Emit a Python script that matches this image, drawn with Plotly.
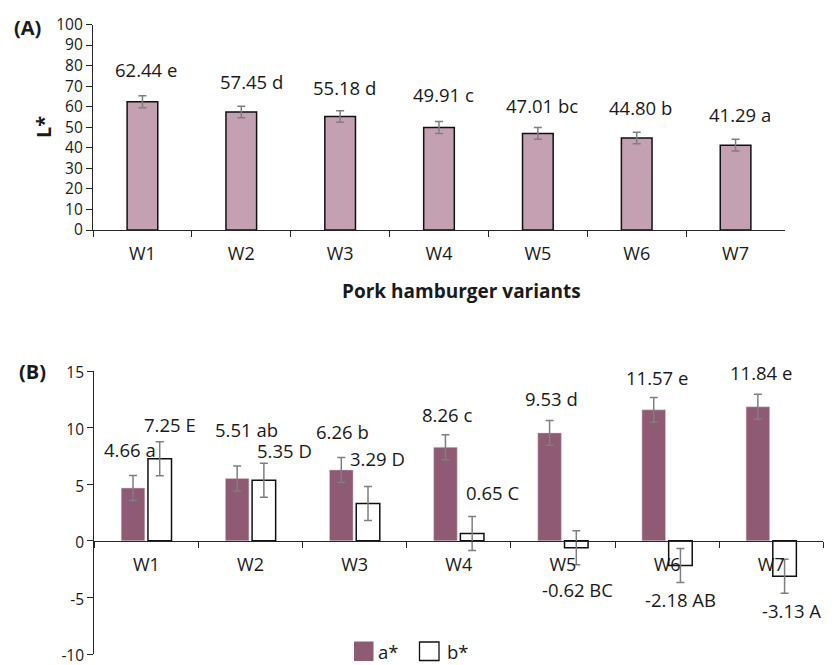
import plotly.graph_objects as go

# ---- data -------------------------------------------------------------
variants = ["W1", "W2", "W3", "W4", "W5", "W6", "W7"]

L_star = [62.44, 57.45, 55.18, 49.91, 47.01, 44.80, 41.29]
L_err = [2.9, 2.8, 2.8, 2.9, 2.9, 2.8, 2.9]
L_groups = ["e", "d", "d", "c", "bc", "b", "a"]

a_star = [4.66, 5.51, 6.26, 8.26, 9.53, 11.57, 11.84]
a_err = [1.1, 1.1, 1.1, 1.1, 1.1, 1.1, 1.1]
a_groups = ["a", "ab", "b", "c", "d", "e", "e"]

b_star = [7.25, 5.35, 3.29, 0.65, -0.62, -2.18, -3.13]
b_err = [1.5, 1.5, 1.5, 1.5, 1.5, 1.5, 1.5]
b_groups = ["E", "D", "D", "C", "BC", "AB", "A"]

L_ticks = list(range(0, 101, 10))
ab_ticks = [-10, -5, 0, 5, 10, 15]

# ---- styling / placement ---------------------------------------------
W, H = 835, 665
FONT = "Open Sans"
TXT = "#1a1a1a"
AX = "#262626"
ERR = "#7f7f7f"
TOP_FILL = "#c4a0b3"
A_FILL = "#8e5a74"

# label offsets (px) relative to each bar's top end
L_dx = [4, 10, 4, 4, 4, 4, 4]
L_dy = [32, 30, 29, 33, 28, 30, 31]
a_dx = [-16, -4, -12, -12, -11, -10, -10]
a_dy = [39, 49, 38, 33, 34, 32, 34]
b_dx = [24, 34, 23, 34, 15, 13, 20]
b_dy = [34, 30, 45, 41, -42, -34, -34]


def px_x(v):
    return v / W


def px_y(v):
    return 1 - v / H


top_x = [px_x(93), px_x(785)]
top_y = [px_y(230), px_y(24.5)]
bot_x = [px_x(94.3), px_x(823.3)]
bot_y = [px_y(654), px_y(371)]
ab_range = [-10, 15]
zero_pos = bot_y[0] + (bot_y[1] - bot_y[0]) * (0 - ab_range[0]) / (ab_range[1] - ab_range[0])

fig = go.Figure()

fig.add_trace(go.Bar(
    x=variants, y=L_star, width=0.31, xaxis="x", yaxis="y",
    marker=dict(color=TOP_FILL, line=dict(color="#111111", width=1.5)),
    error_y=dict(type="data", array=L_err, color=ERR, thickness=1.5, width=4),
    showlegend=False, name="L*",
))

fig.add_trace(go.Bar(
    x=variants, y=a_star, xaxis="x2", yaxis="y2",
    marker=dict(color=A_FILL, line=dict(color="#e8c8d8", width=0.5)),
    error_y=dict(type="data", array=a_err, color=ERR, thickness=1.5, width=4),
    showlegend=False, name="a*",
))
fig.add_trace(go.Bar(
    x=variants, y=b_star, xaxis="x2", yaxis="y2",
    marker=dict(color="white", line=dict(color="#111111", width=1.5)),
    error_y=dict(type="data", array=b_err, color=ERR, thickness=1.5, width=4),
    showlegend=False, name="b*",
))

ann = []
lab_font = dict(family=FONT, size=18.5, color=TXT)
for i, v in enumerate(variants):
    ann.append(dict(x=v, y=L_star[i], xref="x", yref="y",
                    text=f"{L_star[i]:.2f} {L_groups[i]}", showarrow=False,
                    xshift=L_dx[i], yshift=L_dy[i], font=lab_font))
    ann.append(dict(x=v, y=a_star[i], xref="x2", yref="y2",
                    text=f"{a_star[i]:.2f} {a_groups[i]}", showarrow=False,
                    xshift=a_dx[i], yshift=a_dy[i], font=lab_font))
    ann.append(dict(x=v, y=b_star[i], xref="x2", yref="y2",
                    text=f"{b_star[i]:.2f} {b_groups[i]}", showarrow=False,
                    xshift=b_dx[i], yshift=b_dy[i], font=lab_font))

bold = dict(family=FONT, size=20, color=TXT)
ann += [
    dict(x=px_x(12), y=px_y(27), xref="paper", yref="paper", xanchor="left",
         yanchor="middle", text="<b>(A)</b>", showarrow=False, font=bold),
    dict(x=px_x(17), y=px_y(372), xref="paper", yref="paper", xanchor="left",
         yanchor="middle", text="<b>(B)</b>", showarrow=False, font=bold),
    dict(x=px_x(43), y=px_y(127), xref="paper", yref="paper", xanchor="center",
         yanchor="middle", text="<b>L*</b>", textangle=-90, showarrow=False, font=bold),
    dict(x=px_x(462), y=px_y(291), xref="paper", yref="paper", xanchor="center",
         yanchor="middle", text="<b>Pork hamburger variants</b>", showarrow=False,
         font=dict(family=FONT, size=19, color=TXT)),
    dict(x=px_x(376), y=px_y(651), xref="paper", yref="paper", xanchor="left",
         yanchor="middle", text="a*", showarrow=False, font=lab_font),
    dict(x=px_x(445), y=px_y(651), xref="paper", yref="paper", xanchor="left",
         yanchor="middle", text="b*", showarrow=False, font=lab_font),
]

shapes = [
    dict(type="rect", xref="paper", yref="paper",
         x0=px_x(354), x1=px_x(373.5), y0=px_y(661), y1=px_y(641.5),
         fillcolor=A_FILL, line=dict(width=0)),
    dict(type="rect", xref="paper", yref="paper",
         x0=px_x(419.5), x1=px_x(439), y0=px_y(660.5), y1=px_y(642),
         fillcolor="white", line=dict(color="#111111", width=1.3)),
]

tick_font = dict(family=FONT, size=15.5, color=TXT)
common_x = dict(type="category", tickson="boundaries", ticks="outside", ticklen=6,
                tickcolor=AX, showline=True, linecolor=AX, linewidth=1.2,
                showgrid=False, zeroline=False, tickfont=dict(family=FONT, size=18, color=TXT),
                ticklabelstandoff=7,
                range=[-0.5, 6.5], automargin=False)
common_y = dict(ticks="outside", ticklen=6, tickcolor=AX, showline=True,
                linecolor=AX, linewidth=1.2, showgrid=False, zeroline=False,
                tickfont=tick_font, automargin=False, ticklabeloverflow="allow")

fig.update_layout(
    width=W, height=H,
    margin=dict(l=0, r=0, t=0, b=0),
    paper_bgcolor="white", plot_bgcolor="white",
    barmode="group", bargap=0.487, bargroupgap=0.118,
    font=dict(family=FONT, color=TXT),
    xaxis=dict(domain=top_x, anchor="y", **common_x),
    yaxis=dict(domain=top_y, anchor="x", range=[0, 100], tickvals=L_ticks, **common_y),
    xaxis2=dict(domain=bot_x, anchor="free", position=zero_pos, **common_x),
    yaxis2=dict(domain=bot_y, anchor="x2", range=ab_range, tickvals=ab_ticks,
                ticktext=[str(t) for t in ab_ticks], ticklabelshift=2, **common_y),
    annotations=ann,
    shapes=shapes,
    showlegend=False,
)

fig.write_html("out.html")
